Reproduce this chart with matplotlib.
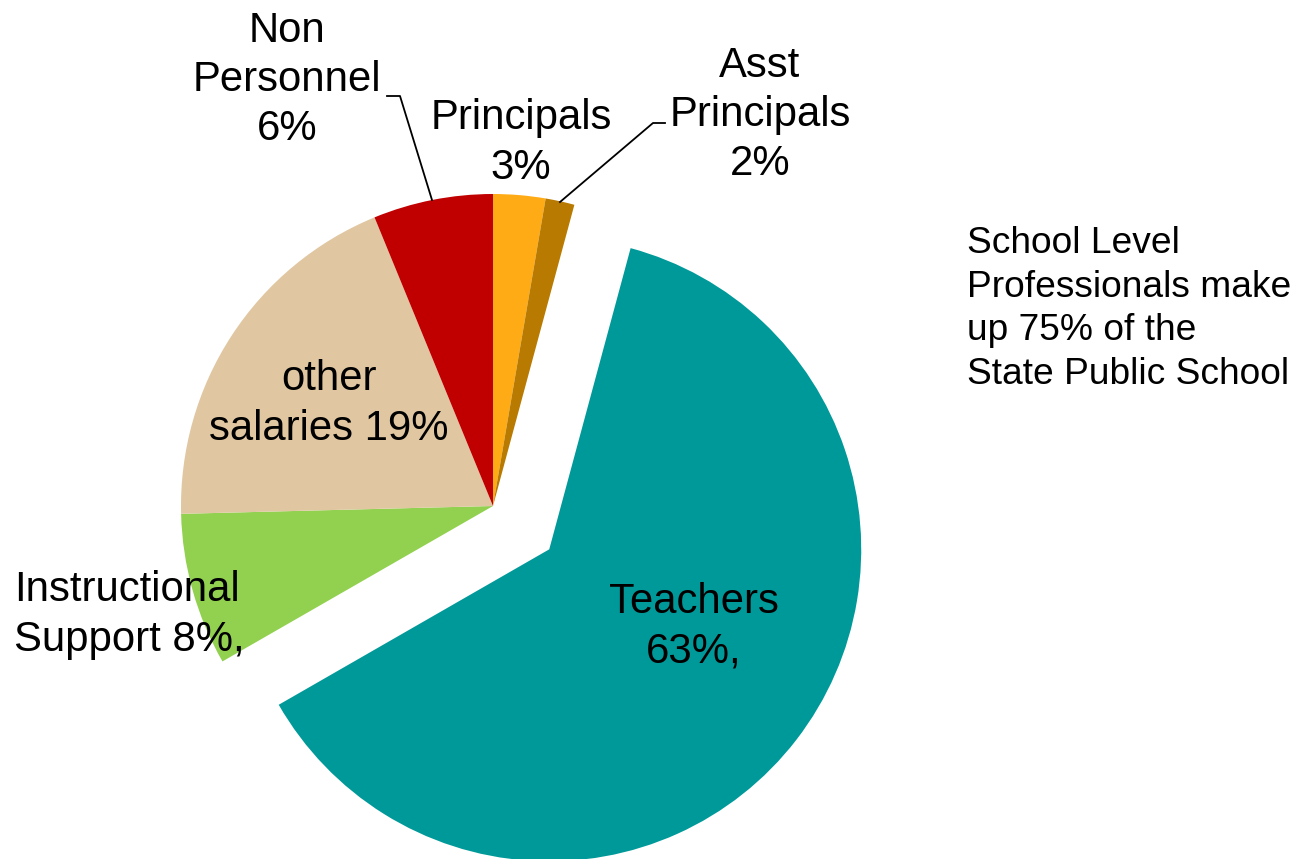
import matplotlib.pyplot as plt

# Dados (fatias no sentido horário a partir do topo)
categorias = ["Principals", "Asst Principals", "Teachers",
              "Instructional Support", "other salaries", "Non Personnel"]
valores = [2.7, 1.5, 62.5, 7.9, 19.2, 6.2]
rotulos = ["Principals\n3%", "Asst\nPrincipals\n2%", "Teachers\n63%,",
           "Instructional\nSupport 8%,", "other\nsalaries 19%", "Non\nPersonnel\n6%"]
cores = ["#FFAB15", "#B87A00", "#009999", "#92D050", "#E0C7A1", "#C00000"]
nota = "School Level\nProfessionals make\nup 75% of the\nState Public School"

W, H = 1299, 859
raio = 312
# deslocamento da fatia Teachers (em unidades de dados = pixels)
destaque = [0, 0, 71, 0, 0, 0]

plt.rcParams['font.family'] = ['Liberation Sans', 'DejaVu Sans']

fig = plt.figure(figsize=(W / 100, H / 100), dpi=100)
ax = fig.add_axes([0, 0, 1, 1])

ax.pie(valores, colors=cores, explode=destaque, startangle=90,
       counterclock=False, radius=raio, center=(493, H - 506),
       wedgeprops=dict(linewidth=0), frame=True)
ax.set_xlim(0, W)
ax.set_ylim(0, H)
ax.set_aspect('equal')
ax.axis('off')

fs = 30.2
ls = 1.3
# posições dos rótulos (em pixels, y a partir do topo)
ax.text(287, H - 80, rotulos[5], fontsize=fs, ha='center', va='center', linespacing=ls)
ax.text(521, H - 143, rotulos[0], fontsize=fs, ha='center', va='center', linespacing=ls)
ax.text(760, H - 115, rotulos[1], fontsize=fs, ha='center', va='center', linespacing=ls)
ax.text(329, H - 404, rotulos[4], fontsize=fs, ha='center', va='center', linespacing=ls)
ax.text(14, H - 615, rotulos[3], fontsize=fs, ha='left', va='center', linespacing=ls)
ax.text(694, H - 627, rotulos[2], fontsize=fs, ha='center', va='center', linespacing=ls)

# linhas de chamada
ax.plot([387, 400, 432], [H - 96, H - 96, H - 200], color='black', lw=1.3)
ax.plot([560, 653, 665], [H - 202, H - 123, H - 123], color='black', lw=1.3)

ax.text(967, H - 309, nota, fontsize=26.7, ha='left', va='center', linespacing=1.32)

plt.savefig("out.png", dpi=100)
